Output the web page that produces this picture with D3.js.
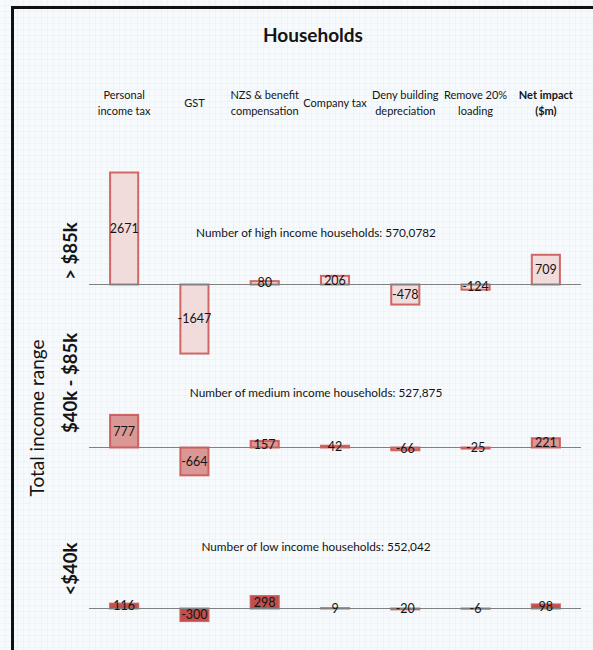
<!DOCTYPE html>
<html>
<head>
<meta charset="utf-8">
<script src="https://cdn.jsdelivr.net/npm/d3@7"></script>
<style>
  html, body { margin: 0; padding: 0; background: #ffffff; }
  svg { display: block; }
  text { font-family: Lato, "Noto Sans", sans-serif; fill: #141414; }
</style>
</head>
<body>
<svg id="chart" width="593" height="650"></svg>
<script>
// Fiscal impact by measure ($m), one row per income band
const categories = ["Personal income tax", "GST", "NZS & benefit compensation", "Company tax",
                    "Deny building depreciation", "Remove 20% loading", "Net impact ($m)"];
const headerLines = [["Personal", "income tax"], ["GST"], ["NZS & benefit", "compensation"], ["Company tax"],
                     ["Deny building", "depreciation"], ["Remove 20%", "loading"], ["Net impact", "($m)"]];
const bands = ["> $85k", "$40k - $85k", "<$40k"];
const highValues = [2671, -1647, 80, 206, -478, -124, 709];
const mediumValues = [777, -664, 157, 42, -66, -25, 221];
const lowValues = [116, -300, 298, 9, -20, -6, 98];
const householdNotes = ["Number of high income households: 570,0782",
                        "Number of medium income households: 527,875",
                        "Number of low income households: 552,042"];

const svg = d3.select("#chart");
const W = 593, H = 650;

// graph-paper background
const defs = svg.append("defs");
const pat = defs.append("pattern").attr("id", "grid").attr("width", 6).attr("height", 6)
  .attr("patternUnits", "userSpaceOnUse");
pat.append("rect").attr("width", 6).attr("height", 6).attr("fill", "#f6fafd");
pat.append("path").attr("d", "M6 0 V6 M0 6 H6").attr("stroke", "#e4f0f8").attr("stroke-width", 1);
svg.append("rect").attr("width", W).attr("height", H).attr("fill", "url(#grid)");

// frame
svg.append("path").attr("d", `M12.5 ${H} V7.5 H${W}`)
  .attr("fill", "none").attr("stroke", "#111").attr("stroke-width", 3);

// title
svg.append("text").attr("x", 313).attr("y", 42).attr("text-anchor", "middle")
  .attr("font-size", 19).attr("font-weight", 700).text("Households");

// shared scales
const x = d3.scaleBand().domain(categories).range([89, 581]).paddingInner(0.6).paddingOuter(0.3);
const y = d3.scaleLinear().domain([0, 2671]).range([0, -112]);

// column headers
const hdr = svg.append("g");
categories.forEach((c, i) => {
  const lines = headerLines[i];
  const cx = x(c) + x.bandwidth() / 2;
  const t = hdr.append("text").attr("text-anchor", "middle")
    .attr("x", cx).attr("y", lines.length === 1 ? 107 : 99)
    .attr("font-weight", i === categories.length - 1 ? 700 : 400)
    .attr("font-size", 11);
  lines.forEach((l, j) => t.append("tspan").attr("x", cx).attr("dy", j === 0 ? 0 : 16).text(l));
});

// axis title
svg.append("text").attr("transform", "translate(44,418) rotate(-90)")
  .attr("text-anchor", "middle").attr("font-size", 19).text("Total income range");

const panels = [
  { values: highValues, base: 284.5, fill: "#f2dcdb", band: bands[0], bandY: 251, noteY: 237 },
  { values: mediumValues, base: 447.5, fill: "#d99795", band: bands[1], bandY: 383, noteY: 397 },
  { values: lowValues, base: 608.5, fill: "#c0504d", band: bands[2], bandY: 569, noteY: 551 }
];

panels.forEach((p, pi) => {
  const g = svg.append("g").attr("transform", `translate(0,${p.base})`);

  // row label
  svg.append("text").attr("transform", `translate(77,${p.bandY}) rotate(-90)`)
    .attr("text-anchor", "middle").attr("font-size", 18.5).attr("font-weight", 700).text(p.band);

  // household count note
  svg.append("text").attr("x", 316).attr("y", p.noteY).attr("text-anchor", "middle")
    .attr("font-size", 11.8).text(householdNotes[pi]);

  // bars
  g.selectAll("rect").data(p.values).join("rect")
    .attr("x", (d, i) => x(categories[i]))
    .attr("width", x.bandwidth())
    .attr("y", d => Math.min(y(d), y(0)))
    .attr("height", d => Math.abs(y(d) - y(0)))
    .attr("fill", p.fill)
    .attr("stroke", "#c9504d").attr("stroke-opacity", 0.85).attr("stroke-width", 2);

  // zero line
  g.append("line").attr("x1", 89).attr("x2", 581).attr("y1", 0).attr("y2", 0)
    .attr("stroke", "#808080").attr("stroke-width", 1);

  // value labels centred in each bar
  g.selectAll("text.val").data(p.values).join("text").attr("class", "val")
    .attr("x", (d, i) => x(categories[i]) + x.bandwidth() / 2)
    .attr("y", d => (y(d) + y(0)) / 2)
    .attr("dy", "0.35em")
    .attr("text-anchor", "middle").attr("font-size", 12.5)
    .text(d => d);
});
</script>
</body>
</html>
